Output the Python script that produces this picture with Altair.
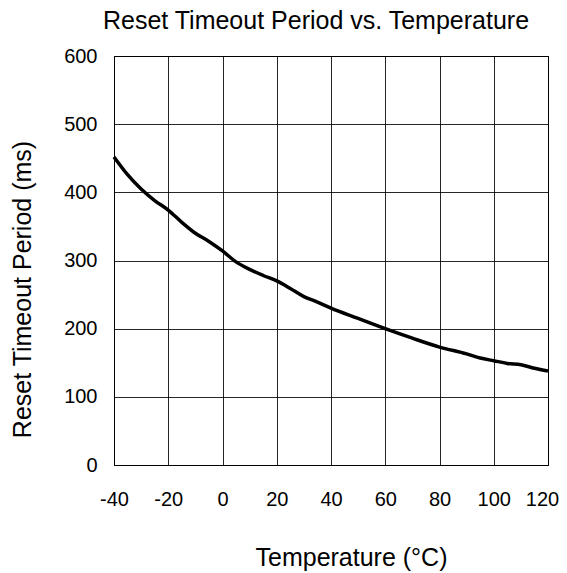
import altair as alt
import pandas as pd

temperature = [-40, -35, -30, -25, -20, -15, -10, -5, 0, 5, 10, 15, 20, 25, 30, 35, 40,
               50, 60, 70, 80, 90, 95, 100, 105, 110, 115, 120]
timeout_ms = [452, 426, 405, 388, 374, 356, 340, 328, 314, 298, 287, 278, 270, 259, 247, 239, 230,
              215, 200, 186, 173, 163, 157, 153, 149, 147, 142, 138]

x_ticks = [-40, -20, 0, 20, 40, 60, 80, 100, 120]
y_ticks = [0, 100, 200, 300, 400, 500, 600]

df = pd.DataFrame({"t": temperature, "v": timeout_ms})

FONT = "Liberation Sans"

chart = alt.Chart(df).mark_line(color="black", strokeWidth=3.5, interpolate="monotone").encode(
    x=alt.X("t:Q",
            scale=alt.Scale(domain=[-40, 120], nice=False),
            axis=alt.Axis(values=x_ticks, title="Temperature (°C)", grid=True,
                          gridColor="black", gridOpacity=0.85, domainColor="black",
                          ticks=False, labelPadding=24, labelFontSize=20, labelFont=FONT,
                          labelColor="black", labelBaseline="top", labelFlush=False,
                          labelOverlap=False, labelExpr="'' + datum.value",
                          labelOffset={"condition": {"test": "datum.value == 120", "value": -6},
                                       "value": 0},
                          titleFont=FONT, titleFontSize=25, titleFontWeight="normal",
                          titleColor="black", titleX=237, titleY=100,
                          titleBaseline="alphabetic", titleAlign="center")),
    y=alt.Y("v:Q",
            scale=alt.Scale(domain=[0, 600], nice=False),
            axis=alt.Axis(values=y_ticks, title="Reset Timeout Period (ms)", grid=True,
                          gridColor="black", gridOpacity=0.85, domainColor="black",
                          ticks=False, labelPadding=17, labelFontSize=20, labelFont=FONT,
                          labelColor="black", labelFlush=False, labelOverlap=False,
                          titleFont=FONT, titleFontSize=25, titleFontWeight="normal",
                          titleColor="black", titleX=-84, titleY=233,
                          titleBaseline="alphabetic", titleAlign="center", titleAngle=270)),
).properties(
    width=434,
    height=409,
    title=alt.TitleParams("Reset Timeout Period vs. Temperature", font=FONT, fontSize=25,
                          fontWeight="normal", color="black", anchor="middle",
                          frame="group", dx=-15, offset=12),
    autosize="none",
    padding={"left": 106, "top": 48, "right": 11, "bottom": 108},
).configure_view(stroke="black", strokeWidth=1)

chart.save("out.html", embed_options={"renderer": "svg", "actions": False})
